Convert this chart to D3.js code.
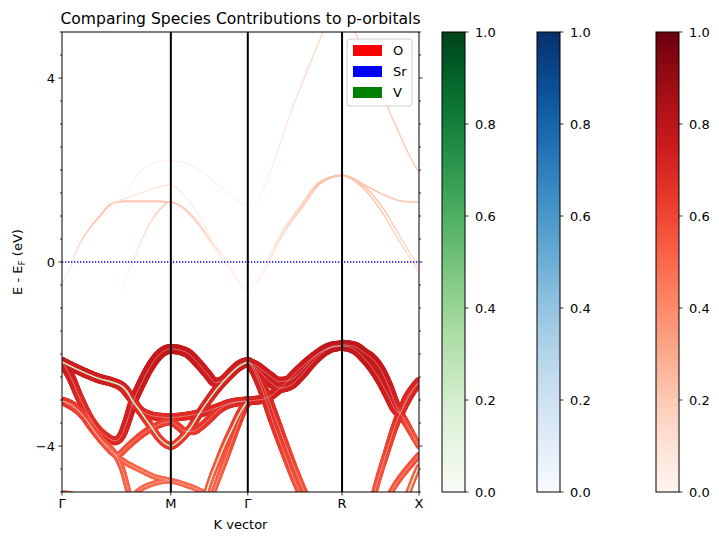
<!DOCTYPE html>
<html>
<head>
<meta charset="utf-8">
<script src="https://cdn.jsdelivr.net/npm/d3@7"></script>
<style>
  body { margin: 0; background: #fff; }
  svg { font-family: "DejaVu Sans", sans-serif; }
</style>
</head>
<body>
<div id="chart"></div>
<script>
// k-path
const kLabels = ["Γ", "M", "Γ", "R", "X"];
const kTicks = [0, 1.0, 1.707, 2.573, 3.28];
const yMajorTicks = [-4, 0, 4];
const cbarTicks = [0, 0.2, 0.4, 0.6, 0.8, 1.0];
const species = ["O", "Sr", "V"];
const speciesColors = ["red", "blue", "green"];
const colorbarMaps = [d3.interpolateGreens, d3.interpolateBlues, d3.interpolateReds];

// O-p valence bands, each point is [k, E - Ef, O weight]
const valenceBands = [
    [[0,-2.17,.75],[0.08,-2.5,.73],[0.165,-2.97,.7],[0.28,-3.48,.67],[0.41,-3.8,.67],[0.49,-3.89,.69],[0.55,-3.76,.7],[0.6,-3.45,.72],[0.652,-3.05,.74],[0.717,-2.7,.75],[0.809,-2.28,.76],[0.9,-2.0,.77],[1.0,-1.89,.78],[1.13,-1.95,.77],[1.25,-2.2,.76],[1.33,-2.42,.75],[1.41,-2.62,.74],[1.48,-2.57,.74],[1.56,-2.38,.75],[1.64,-2.22,.75],[1.707,-2.17,.75]],
    [[0,-2.17,.74],[0.165,-2.36,.74],[0.349,-2.54,.74],[0.47,-2.62,.73],[0.55,-2.7,.72],[0.6,-2.82,.71],[0.643,-3.0,.69],[0.72,-3.25,.67],[0.81,-3.55,.65],[0.9,-3.85,.63],[1.0,-4.0,.63],[1.08,-3.88,.63],[1.176,-3.62,.65],[1.26,-3.3,.67],[1.341,-3.02,.69],[1.43,-2.74,.71],[1.525,-2.49,.72],[1.62,-2.28,.74],[1.707,-2.17,.75]],
    [[0,-2.17,.74],[0.165,-2.36,.74],[0.349,-2.54,.74],[0.47,-2.62,.73],[0.55,-2.72,.72],[0.64,-2.98,.7],[0.72,-3.22,.68],[0.81,-3.33,.68],[0.9,-3.37,.68],[1.0,-3.38,.68],[1.1,-3.36,.68],[1.25,-3.3,.69],[1.4,-3.19,.7],[1.56,-3.06,.7],[1.707,-3.02,.71]],
    [[0,-3.02,.66],[0.1,-3.12,.65],[0.193,-3.34,.63],[0.27,-3.6,.61],[0.349,-3.84,.59],[0.43,-4.06,.57],[0.505,-4.2,.56],[0.6,-4.02,.57],[0.717,-3.78,.59],[0.85,-3.58,.61],[1.0,-3.47,.63],[1.07,-3.58,.63],[1.13,-3.68,.63],[1.2,-3.68,.63],[1.286,-3.56,.64],[1.36,-3.4,.65],[1.433,-3.23,.66],[1.55,-3.08,.68],[1.707,-3.02,.7]],
    [[0,-3.02,.66],[0.1,-3.12,.64],[0.193,-3.34,.61],[0.349,-3.84,.58],[0.505,-4.23,.54],[0.6,-4.38,.52],[0.717,-4.52,.5],[0.85,-4.67,.5],[1.0,-4.75,.5],[1.13,-4.84,.5],[1.25,-4.95,.5],[1.36,-5.1,.5],[1.42,-5.25,.5]],
    [[0,-3.02,.66],[0.193,-3.34,.61],[0.349,-3.84,.58],[0.505,-4.25,.54],[0.56,-4.55,.53],[0.6,-4.9,.52],[0.64,-5.25,.52]],
    [[0.62,-5.2,.5],[0.7,-4.98,.5],[0.8,-4.85,.5],[0.9,-4.78,.5],[1.0,-4.75,.5]],
    [[1.3,-5.2,.52],[1.378,-4.65,.54],[1.44,-4.28,.56],[1.498,-3.95,.58],[1.56,-3.64,.6],[1.617,-3.36,.62],[1.67,-3.14,.65],[1.707,-3.02,.67]],
    [[1.36,-5.2,.5],[1.43,-4.75,.52],[1.5,-4.3,.55],[1.56,-3.9,.58],[1.62,-3.5,.61],[1.67,-3.2,.64],[1.707,-3.04,.67]],
    [[0,-5.03,.53],[0.08,-5.05,.53],[0.16,-5.1,.53],[0.25,-5.25,.53]],
    [[1.707,-2.17,.75],[1.8,-2.34,.75],[1.9,-2.58,.74],[2.0,-2.74,.74],[2.1,-2.68,.74],[2.2,-2.46,.75],[2.3,-2.18,.76],[2.4,-1.96,.77],[2.5,-1.84,.78],[2.573,-1.82,.78]],
    [[1.707,-2.17,.75],[1.8,-2.28,.75],[1.9,-2.46,.74],[2.0,-2.6,.74],[2.1,-2.56,.74],[2.2,-2.37,.75],[2.3,-2.11,.76],[2.4,-1.92,.77],[2.5,-1.83,.78],[2.573,-1.82,.78]],
    [[1.707,-3.02,.71],[1.865,-2.97,.71],[2.021,-2.71,.73],[2.168,-2.36,.74],[2.352,-2.0,.76],[2.47,-1.86,.78],[2.573,-1.82,.78]],
    [[1.707,-2.17,.74],[1.75,-2.3,.74],[1.8,-2.55,.72],[1.86,-2.92,.7],[1.93,-3.42,.67],[2.03,-4.08,.62],[2.12,-4.65,.58],[2.2,-5.1,.56]],
    [[1.707,-2.17,.74],[1.76,-2.28,.74],[1.82,-2.55,.72],[1.89,-2.95,.7],[1.97,-3.45,.67],[2.07,-4.08,.62],[2.16,-4.62,.58],[2.25,-5.12,.56]],
    [[2.573,-1.8,.78],[2.69,-1.84,.78],[2.78,-1.98,.77],[2.85,-2.1,.77],[2.93,-2.35,.76],[3.0,-2.7,.75],[3.07,-3.12,.71],[3.11,-3.3,.67],[3.16,-3.5,.62],[3.22,-3.75,.58],[3.28,-4.0,.56]],
    [[2.573,-1.82,.78],[2.69,-1.9,.78],[2.78,-2.1,.77],[2.85,-2.3,.77],[2.93,-2.6,.75],[3.0,-2.92,.74],[3.06,-3.2,.72],[3.1,-3.28,.7],[3.17,-2.95,.7],[3.243,-2.7,.71],[3.28,-2.6,.72]],
    [[2.86,-5.1,.55],[2.92,-4.6,.57],[2.98,-4.15,.59],[3.04,-3.7,.62],[3.1,-3.32,.67],[3.16,-3.05,.69],[3.22,-2.8,.7],[3.28,-2.63,.72]],
    [[2.99,-5.15,.53],[3.03,-4.97,.53],[3.12,-4.65,.55],[3.2,-4.42,.56],[3.28,-4.2,.56]],
    [[3.15,-5.2,.52],[3.2,-4.9,.52],[3.25,-4.6,.53],[3.28,-4.45,.53]]
];
// valence bands with a visible V contribution
const vTraceBands = [1, 7, 19];

// V-d conduction bands, [k, E - Ef, O weight]
const conductionBands = [
    [[0,-0.48,.05],[0.05,-0.25,.08],[0.165,0.4,.16],[0.26,0.75,.2],[0.349,1.0,.22],[0.42,1.2,.22],[0.49,1.3,.22],[0.6,1.32,.22],[0.8,1.32,.22],[1.0,1.3,.22],[1.2,1.0,.18],[1.36,0.5,.14],[1.516,0.0,.08],[1.62,-0.37,.05],[1.68,-0.6,.04]],
    [[0.56,-0.6,.03],[0.6,-0.3,.05],[0.652,0.0,.08],[0.78,0.72,.14],[0.9,1.15,.18],[1.0,1.3,.2],[1.2,0.96,.16],[1.36,0.45,.12],[1.5,-0.02,.07],[1.6,-0.38,.04],[1.66,-0.6,.03]],
    [[0.45,1.27,.08],[0.53,1.34,.1],[0.65,1.43,.1],[0.78,1.55,.1],[0.9,1.64,.1],[1.0,1.67,.1],[1.13,1.43,.09],[1.295,0.87,.07],[1.45,0.13,.05],[1.6,-0.35,.03],[1.66,-0.6,.03]],
    [[0.45,1.1,.04],[0.6,1.58,.05],[0.717,1.95,.06],[0.9,2.19,.06],[1.0,2.2,.06],[1.204,2.08,.06],[1.452,1.65,.06],[1.635,1.3,.06],[1.707,1.2,.06]],
    [[1.74,-0.6,.03],[1.82,-0.3,.06],[2.0,0.56,.14],[2.19,1.21,.19],[2.37,1.74,.22],[2.573,1.88,.23],[2.738,1.67,.21],[2.922,1.15,.19],[3.105,0.43,.16],[3.28,-0.22,.12]],
    [[1.76,-0.6,.03],[1.84,-0.3,.06],[2.02,0.56,.14],[2.21,1.2,.19],[2.38,1.72,.22],[2.573,1.88,.23],[2.75,1.7,.21],[2.94,1.2,.19],[3.12,0.5,.16],[3.28,-0.12,.12]],
    [[2.573,1.88,.21],[2.7,1.78,.21],[2.8,1.65,.21],[2.986,1.43,.2],[3.133,1.32,.2],[3.28,1.3,.2]],
    [[1.76,1.2,.02],[1.82,1.43,.04],[1.95,2.2,.08],[2.122,3.38,.12],[2.26,4.2,.14],[2.398,4.99,.15],[2.45,5.25,.15]],
    [[2.63,5.3,.16],[2.692,4.99,.16],[2.857,4.12,.17],[3.041,3.1,.18],[3.225,2.17,.18],[3.28,1.95,.18]]
];

const width = 719, height = 542;
const plot = { left: 62, right: 419, top: 32, bottom: 492 };

const svg = d3.select("#chart").append("svg")
    .attr("width", width)
    .attr("height", height);

const x = d3.scaleLinear().domain([0, 3.28]).range([plot.left, plot.right]);
const y = d3.scaleLinear().domain([-5, 5]).range([plot.bottom, plot.top]);

// marker width grows with projection weight
const widthScale = d3.scaleLinear().domain([0, 0.2, 0.5, 0.8]).range([0.5, 1.5, 5.5, 10.5]);

svg.append("clipPath").attr("id", "plot-clip")
    .append("rect")
    .attr("x", plot.left).attr("y", plot.top)
    .attr("width", plot.right - plot.left)
    .attr("height", plot.bottom - plot.top);

const bandsG = svg.append("g").attr("clip-path", "url(#plot-clip)");

const bandLine = d3.line()
    .x(d => x(d[0]))
    .y(d => y(d[1]))
    .curve(d3.curveMonotoneX);

// samples the smooth band path so width/colour can change along it
function samplePath(pts) {
    let tmp = bandsG.append("path").attr("d", bandLine(pts)).attr("fill", "none");
    let node = tmp.node();
    let len = node.getTotalLength();
    let out = [];
    for (let s = 0; s <= len; s += 1.5) {
        out.push(node.getPointAtLength(s));
    }
    out.push(node.getPointAtLength(len));
    tmp.remove();
    return out;
}

function drawBand(pts) {
    let wAt = d3.scaleLinear()
        .domain(pts.map(d => x(d[0])))
        .range(pts.map(d => d[2]))
        .clamp(true);
    let samples = samplePath(pts);
    let g = bandsG.append("g");
    for (let i = 0; i < samples.length - 1; i++) {
        let p0 = samples[i], p1 = samples[i + 1];
        let w = wAt((p0.x + p1.x) / 2);
        g.append("line")
            .attr("x1", p0.x).attr("y1", p0.y)
            .attr("x2", p1.x).attr("y2", p1.y)
            .attr("stroke", d3.interpolateReds(w))
            .attr("stroke-width", Math.max(0.5, widthScale(w)))
            .attr("stroke-linecap", "round");
    }
}

conductionBands.forEach(drawBand);
valenceBands.forEach(drawBand);

// Sr contribution is ~0 everywhere: a pale trace on top of the O bands
valenceBands.forEach(function(pts) {
    bandsG.append("path")
        .attr("d", bandLine(pts))
        .attr("fill", "none")
        .attr("stroke", d3.interpolateBlues(0.03))
        .attr("stroke-width", 0.8)
        .attr("opacity", 0.45);
});

vTraceBands.forEach(function(i) {
    bandsG.append("path")
        .attr("d", bandLine(valenceBands[i]))
        .attr("fill", "none")
        .attr("stroke", d3.interpolateGreens(0.22))
        .attr("stroke-width", 1.5);
});

// Fermi level
svg.append("line")
    .attr("x1", plot.left).attr("x2", plot.right)
    .attr("y1", y(0)).attr("y2", y(0))
    .attr("stroke", "#0000e0")
    .attr("stroke-width", 1.3)
    .attr("stroke-dasharray", "1.3,1.7");

// high-symmetry lines
svg.selectAll(".kline")
    .data(kTicks.slice(1, -1))
    .enter()
    .append("line")
    .attr("class", "kline")
    .attr("x1", d => x(d)).attr("x2", d => x(d))
    .attr("y1", plot.top).attr("y2", plot.bottom)
    .attr("stroke", "black")
    .attr("stroke-width", 2);

// frame
svg.append("rect")
    .attr("x", plot.left).attr("y", plot.top)
    .attr("width", plot.right - plot.left)
    .attr("height", plot.bottom - plot.top)
    .attr("fill", "none")
    .attr("stroke", "black")
    .attr("stroke-width", 1);

// y ticks, left and right
const minorTicks = d3.range(-5, 5.01, 0.5).filter(v => !yMajorTicks.includes(v));
[plot.left, plot.right].forEach(function(px) {
    let dir = px === plot.left ? -1 : 1;
    svg.append("g").selectAll("line")
        .data(minorTicks)
        .enter()
        .append("line")
        .attr("x1", px).attr("x2", px + dir * 2)
        .attr("y1", d => y(d)).attr("y2", d => y(d))
        .attr("stroke", "black").attr("stroke-width", 0.8);
    svg.append("g").selectAll("line")
        .data(yMajorTicks)
        .enter()
        .append("line")
        .attr("x1", px).attr("x2", px + dir * 3.5)
        .attr("y1", d => y(d)).attr("y2", d => y(d))
        .attr("stroke", "black").attr("stroke-width", 0.8);
});

svg.append("g").selectAll("text")
    .data(yMajorTicks)
    .enter()
    .append("text")
    .attr("x", plot.left - 7)
    .attr("y", d => y(d))
    .attr("dy", "0.36em")
    .attr("text-anchor", "end")
    .style("font-size", "13px")
    .text(d => d < 0 ? "\u2212" + Math.abs(d) : d);

// x ticks
svg.append("g").selectAll("line")
    .data(kTicks)
    .enter()
    .append("line")
    .attr("x1", d => x(d)).attr("x2", d => x(d))
    .attr("y1", plot.bottom).attr("y2", plot.bottom + 3.5)
    .attr("stroke", "black").attr("stroke-width", 0.8);

svg.append("g").selectAll("text")
    .data(kTicks)
    .enter()
    .append("text")
    .attr("x", d => x(d))
    .attr("y", plot.bottom + 16)
    .attr("text-anchor", "middle")
    .style("font-size", "13px")
    .text((d, i) => kLabels[i]);

svg.append("text")
    .attr("x", (plot.left + plot.right) / 2)
    .attr("y", 529)
    .attr("text-anchor", "middle")
    .style("font-size", "13px")
    .text("K vector");

let yLabel = svg.append("text")
    .attr("transform", "translate(22," + ((plot.top + plot.bottom) / 2) + ") rotate(-90)")
    .attr("text-anchor", "middle")
    .style("font-size", "13px");
yLabel.append("tspan").text("E - E");
yLabel.append("tspan").attr("dy", 3).style("font-size", "9px").text("F");
yLabel.append("tspan").attr("dy", -3).text(" (eV)");

svg.append("text")
    .attr("x", (plot.left + plot.right) / 2)
    .attr("y", 24)
    .attr("text-anchor", "middle")
    .style("font-size", "15.6px")
    .text("Comparing Species Contributions to p-orbitals");

// legend
const legend = svg.append("g").attr("transform", "translate(347,39)");
legend.append("rect")
    .attr("width", 65).attr("height", 67)
    .attr("rx", 3)
    .attr("fill", "white").attr("fill-opacity", 0.8)
    .attr("stroke", "#cccccc");
species.forEach(function(s, i) {
    legend.append("rect")
        .attr("x", 6).attr("y", 6 + i * 21)
        .attr("width", 29).attr("height", 11)
        .attr("fill", speciesColors[i]);
    legend.append("text")
        .attr("x", 46).attr("y", 11.5 + i * 21)
        .attr("dy", "0.36em")
        .style("font-size", "13px")
        .text(s);
});

// colorbars
const cbarX = [442, 537, 656];
const cbarW = 23;
const cbarY = d3.scaleLinear().domain([0, 1]).range([plot.bottom, plot.top]);
const defs = svg.append("defs");

colorbarMaps.forEach(function(interp, i) {
    let grad = defs.append("linearGradient")
        .attr("id", "cbar-grad-" + i)
        .attr("x1", 0).attr("y1", 1).attr("x2", 0).attr("y2", 0);
    d3.range(0, 1.001, 0.05).forEach(function(t) {
        grad.append("stop")
            .attr("offset", t)
            .attr("stop-color", interp(t));
    });

    let g = svg.append("g");
    g.append("rect")
        .attr("x", cbarX[i]).attr("y", plot.top)
        .attr("width", cbarW).attr("height", plot.bottom - plot.top)
        .attr("fill", "url(#cbar-grad-" + i + ")")
        .attr("stroke", "black").attr("stroke-width", 1);
    g.selectAll("line")
        .data(cbarTicks)
        .enter()
        .append("line")
        .attr("x1", cbarX[i] + cbarW).attr("x2", cbarX[i] + cbarW + 3.5)
        .attr("y1", d => cbarY(d)).attr("y2", d => cbarY(d))
        .attr("stroke", "black").attr("stroke-width", 0.8);
    g.selectAll("text")
        .data(cbarTicks)
        .enter()
        .append("text")
        .attr("x", cbarX[i] + cbarW + 10)
        .attr("y", d => cbarY(d))
        .attr("dy", "0.36em")
        .style("font-size", "13px")
        .text(d => d.toFixed(1));
});
</script>
</body>
</html>
